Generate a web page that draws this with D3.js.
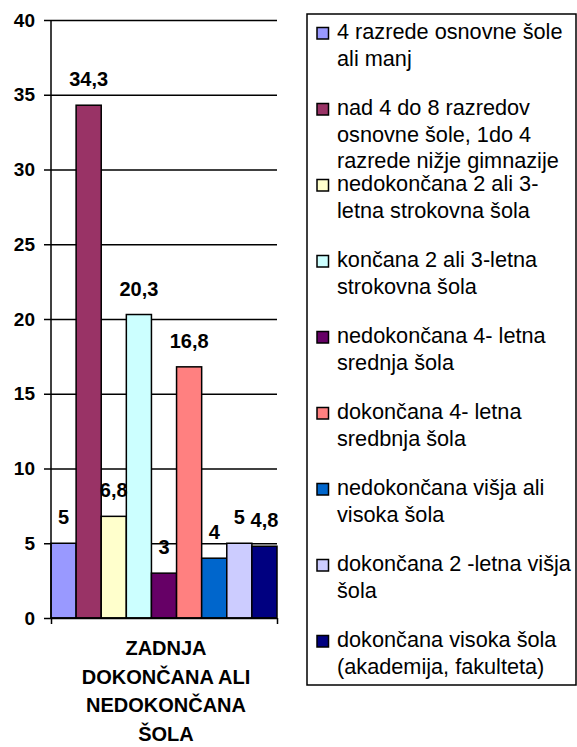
<!DOCTYPE html>
<html>
<head>
<meta charset="utf-8">
<script src="https://cdn.jsdelivr.net/npm/d3@7"></script>
<style>
  body { margin: 0; background: #fff; }
  svg { display: block; font-family: "Liberation Sans", Arial, sans-serif; }
  .yaxis text { font-weight: bold; font-size: 19px; fill: #000; }
</style>
</head>
<body>
<div id="chart"></div>
<script>
// legend labels (one array of lines per series)
var seriesNames = [
    ["4 razrede osnovne šole", "ali manj"],
    ["nad 4 do 8 razredov", "osnovne šole, 1do 4", "razrede nižje gimnazije"],
    ["nedokončana 2 ali 3-", "letna strokovna šola"],
    ["končana 2 ali 3-letna", "strokovna šola"],
    ["nedokončana 4- letna", "srednja šola"],
    ["dokončana 4- letna", "sredbnja šola"],
    ["nedokončana višja ali", "visoka šola"],
    ["dokončana 2 -letna višja", "šola"],
    ["dokončana visoka šola", "(akademija, fakulteta)"]
];
var values = [5, 34.3, 6.8, 20.3, 3, 16.8, 4, 5, 4.8];
var colors = ["#9999FF", "#993366", "#FFFFCC", "#CCFFFF", "#660066",
              "#FF8080", "#0066CC", "#CCCCFF", "#000080"];
var yTicks = [0, 5, 10, 15, 20, 25, 30, 35, 40];
var categoryTitle = ["ZADNJA", "DOKONČANA ALI", "NEDOKONČANA", "ŠOLA"];

var width = 577, height = 747;
var margin = { top: 20, left: 51 };
var plotW = 226, plotH = 598;
var fontFam = '"Liberation Sans", Arial, sans-serif';

var svg = d3.select("#chart").append("svg")
    .attr("width", width)
    .attr("height", height);

var g = svg.append("g")
    .attr("transform", "translate(" + margin.left + "," + margin.top + ")");

var x = d3.scaleBand()
    .domain(d3.range(values.length))
    .range([0, plotW])
    .padding(0);

var y = d3.scaleLinear()
    .domain([0, 40])
    .range([plotH, 0]);

// gridlines
var grid = g.append("g")
    .call(d3.axisLeft(y).tickValues(yTicks).tickSize(-plotW).tickFormat(""));
grid.select(".domain").remove();
grid.selectAll("line").attr("stroke", "#000").attr("stroke-width", 1.5);

// bars
g.selectAll(".bar")
    .data(values)
    .enter()
    .append("rect")
    .attr("class", "bar")
    .attr("x", function(d, i){ return x(i); })
    .attr("y", function(d){ return y(d); })
    .attr("width", x.bandwidth())
    .attr("height", function(d){ return plotH - y(d); })
    .attr("fill", function(d, i){ return colors[i]; })
    .attr("stroke", "#000")
    .attr("stroke-width", 1.5);

// value labels
g.selectAll(".val")
    .data(values)
    .enter()
    .append("text")
    .attr("class", "val")
    .attr("x", function(d, i){ return x(i) + x.bandwidth() / 2; })
    .attr("y", function(d){ return y(d) - 19; })
    .attr("text-anchor", "middle")
    .style("font-size", "20px")
    .style("font-weight", "bold")
    .text(function(d){ return String(d).replace(".", ","); });

// y axis
var yAxis = g.append("g")
    .attr("class", "yaxis")
    .call(d3.axisLeft(y).tickValues(yTicks).tickSize(7).tickPadding(9));
yAxis.attr("font-size", 19).attr("font-weight", "bold").attr("font-family", fontFam);
yAxis.select(".domain").attr("stroke", "#000").attr("stroke-width", 1.5)
    .attr("d", "M0," + plotH + "V0");
yAxis.selectAll("line").attr("stroke-width", 1.5);

// x axis (single category, ticks at both ends)
var xAxis = g.append("g")
    .attr("transform", "translate(0," + plotH + ")")
    .call(d3.axisBottom(d3.scaleLinear().domain([0, 1]).range([0, plotW]))
        .tickValues([0, 1]).tickSize(6).tickFormat(""));
xAxis.select(".domain").attr("stroke-width", 1.5).attr("d", "M0,0H" + plotW);
xAxis.selectAll("line").attr("stroke-width", 1.5);

// category title
svg.append("text")
    .attr("text-anchor", "middle")
    .style("font-size", "20px")
    .style("font-weight", "bold")
    .selectAll("tspan")
    .data(categoryTitle)
    .enter()
    .append("tspan")
    .attr("x", margin.left + plotW / 2 + 2)
    .attr("y", function(d, i){ return 655 + i * 28.5; })
    .text(function(d){ return d; });

// legend
var legend = svg.append("g");
legend.append("rect")
    .attr("x", 307).attr("y", 14)
    .attr("width", 269).attr("height", 671)
    .attr("fill", "#fff")
    .attr("stroke", "#000")
    .attr("stroke-width", 1.5);

var item = legend.selectAll(".item")
    .data(seriesNames)
    .enter()
    .append("g")
    .attr("class", "item")
    .attr("transform", function(d, i){ return "translate(317," + (39 + i * 76) + ")"; });

item.append("rect")
    .attr("x", 0).attr("y", -11.5)
    .attr("width", 11.5).attr("height", 11.5)
    .attr("fill", function(d, i){ return colors[i]; })
    .attr("stroke", "#000")
    .attr("stroke-width", 1.5);

item.append("text")
    .style("font-size", "21.7px")
    .selectAll("tspan")
    .data(function(d){ return d; })
    .enter()
    .append("tspan")
    .attr("x", 20)
    .attr("y", function(d, i){ return i * 26.5; })
    .text(function(d){ return d; });
</script>
</body>
</html>
